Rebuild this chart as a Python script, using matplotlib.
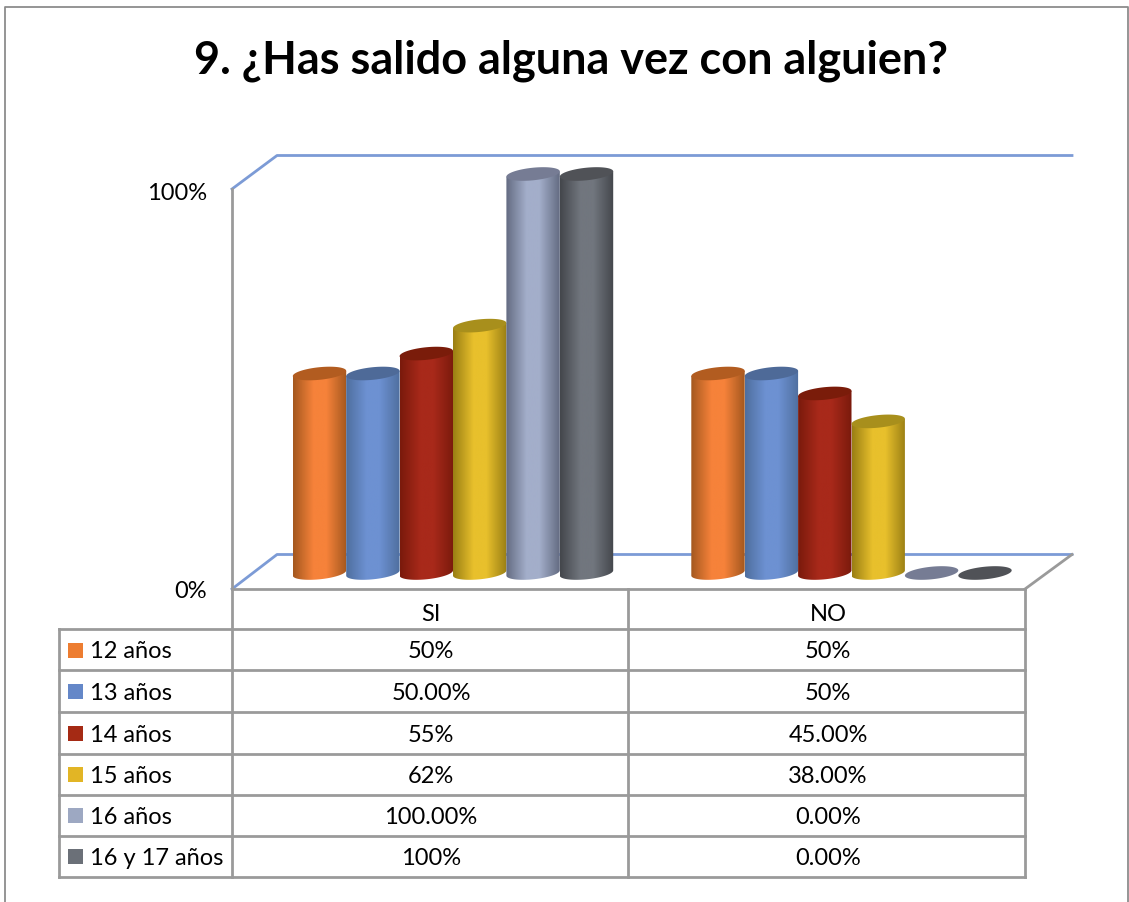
import numpy as np
import matplotlib
matplotlib.use('Agg')
import matplotlib.pyplot as plt
from matplotlib.colors import LinearSegmentedColormap
from matplotlib.patches import PathPatch, Polygon, Rectangle
from matplotlib.path import Path

# Datos
titulo = '9. ¿Has salido alguna vez con alguien?'
categorias = ['SI', 'NO']
edades = ['12 años', '13 años', '14 años', '15 años', '16 años', '16 y 17 años']
valores_si = [50, 50, 55, 62, 100, 100]
valores_no = [50, 50, 45, 38, 0, 0]
texto_si = ['50%', '50.00%', '55%', '62%', '100.00%', '100%']
texto_no = ['50%', '50%', '45.00%', '38.00%', '0.00%', '0.00%']

# Colores de cada serie: borde, centro, tapa, leyenda
borde = ['#a4581f', '#4f6f9f', '#7a1a0c', '#9a7f14', '#646c82', '#44474c']
centro = ['#f6823a', '#6d91d2', '#a8291a', '#e8c02c', '#a3aeca', '#71767e']
tapa = ['#b25c20', '#4e6a98', '#7a1c0a', '#a88f1c', '#767c94', '#505257']
leyenda = ['#ed7d31', '#6487c8', '#a52a14', '#e2b525', '#9da8c2', '#6b7078']

ANCHO, ALTO = 1129, 903
GRIS = '#9a9a9a'
AZUL = '#7c9bd6'
TAM = 17

plt.rcParams['font.family'] = ['Lato', 'DejaVu Sans']
fig = plt.figure(figsize=(ANCHO / 100, ALTO / 100), dpi=100, facecolor='white')

# Capa en pixeles para marco, paredes y tabla
capa = fig.add_axes([0, 0, 1, 1], zorder=1)
capa.set_xlim(0, ANCHO)
capa.set_ylim(ALTO, 0)
capa.axis('off')

# Marco
capa.plot([5, 5, 1128, 1128], [903, 8, 8, 903], color='#8c8c8c', lw=1.3)

# Paredes y piso
capa.plot([232, 277, 1072], [190, 156.5, 156.5], color=AZUL, lw=2)
capa.plot([232, 277, 1072], [590, 555.5, 555.5], color=AZUL, lw=2)
capa.plot([1025, 1072], [590, 555.5], color=GRIS, lw=2)
capa.plot([232, 232], [190, 590], color=GRIS, lw=2)
capa.text(207, 193.5, '100%', ha='right', va='center', fontsize=TAM)
capa.text(207, 591.5, '0%', ha='right', va='center', fontsize=TAM)

# Tabla
filas_y = [590, 630, 671, 713, 755, 796, 837, 878]
col_x = [59, 232, 628, 1025]
capa.plot([232, 1025], [590, 590], color=GRIS, lw=2)
for y in filas_y[1:]:
    capa.plot([col_x[0], col_x[3]], [y, y], color=GRIS, lw=2)
capa.plot([col_x[0], col_x[0]], [filas_y[1], filas_y[-1]], color=GRIS, lw=2)
for x in col_x[1:]:
    capa.plot([x, x], [filas_y[0], filas_y[-1]], color=GRIS, lw=2)

capa.text(431, 615, categorias[0], ha='center', va='center', fontsize=TAM)
capa.text(828, 615, categorias[1], ha='center', va='center', fontsize=TAM)
for i, edad in enumerate(edades):
    yc = (filas_y[i + 1] + filas_y[i + 2]) / 2
    capa.add_patch(Rectangle((68, yc - 7), 15, 15, facecolor=leyenda[i], edgecolor='none'))
    capa.text(90, yc + 1.5, edad, ha='left', va='center', fontsize=TAM)
    capa.text(431, yc + 1.5, texto_si[i], ha='center', va='center', fontsize=TAM)
    capa.text(828, yc + 1.5, texto_no[i], ha='center', va='center', fontsize=TAM)

fig.text(571 / ANCHO, 1 - 61 / ALTO, titulo, ha='center', va='center',
         fontsize=32.4, fontweight='bold')

# Ejes de datos: 0% en y=574 px, 100% en y=175 px, con margen para tapas y fondos
px_y = 399 / 100
margen = 5
ax = fig.add_axes([232 / ANCHO, 1 - (574 + margen * px_y) / ALTO, (1025 - 232) / ANCHO,
                   (100 + 2 * margen) * px_y / ALTO], zorder=2)
ax.patch.set_alpha(0)
ax.axis('off')

ancho_barra = 53.4 / 398.5
radio_y = 6.3 / px_y
giro = 2.6 / px_y
t = np.linspace(0, 2 * np.pi, 80)


def elipse(xc, v):
    return np.column_stack([xc + ancho_barra / 2 * np.cos(t),
                            v + radio_y * np.sin(t) + giro * np.cos(t)])


def cilindro(xc, v, serie):
    izq, der = xc - ancho_barra / 2, xc + ancho_barra / 2
    if v > 0:
        # cuerpo: lados rectos y media elipse abajo
        ta = np.linspace(np.pi, 2 * np.pi, 40)
        abajo = np.column_stack([xc + ancho_barra / 2 * np.cos(ta),
                                 radio_y * np.sin(ta) + giro * np.cos(ta)])
        puntos = np.vstack([[[izq, v - giro]], abajo, [[der, v + giro]]])
        cuerpo = PathPatch(Path(np.vstack([puntos, puntos[0]]), closed=True),
                           facecolor='none', edgecolor='none', transform=ax.transData)
        ax.add_patch(cuerpo)
        mapa = LinearSegmentedColormap.from_list('c', [(0, borde[serie]), (0.38, centro[serie]),
                                                       (0.62, centro[serie]), (1, borde[serie])])
        img = ax.imshow(np.linspace(0, 1, 120)[None, :], cmap=mapa, aspect='auto',
                        extent=[izq, der, -3, v + 3], zorder=2 + serie * 0.1)
        img.set_clip_path(cuerpo)
    ax.add_patch(Polygon(elipse(xc, v), closed=True, facecolor=tapa[serie], edgecolor='none',
                         zorder=2.05 + serie * 0.1))


for c, valores in enumerate([valores_si, valores_no]):
    for s, v in enumerate(valores):
        cilindro(c + (s - 2.5) * ancho_barra, v, s)

# x=0 en 453 px, x=1 en 851.5 px
ax.set_xlim((232 - 453) / 398.5, (1025 - 453) / 398.5)
ax.set_ylim(-margen, 100 + margen)

fig.savefig('out.png', dpi=100)
